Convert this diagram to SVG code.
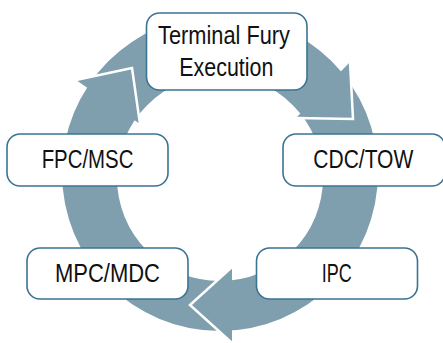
<svg xmlns="http://www.w3.org/2000/svg" width="443" height="343" viewBox="0 0 443 343">
  <style>
    .ring { fill: #809fae; }
    .head { fill: #809fae; stroke: none; }
    .edge { fill: none; stroke: #ffffff; stroke-width: 2.5; stroke-linejoin: miter; }
    .box { fill: #ffffff; stroke: #3b7392; stroke-width: 1.6; }
    .lbl { font-family: "Liberation Sans Narrow", "Liberation Sans", Arial, sans-serif; font-size: 26px; fill: #111111; text-anchor: middle; }
  </style>
  <rect width="443" height="343" fill="#ffffff"/>
  <g id="connectors">
    <path class="ring" fill-rule="evenodd" d="M 62 173 A 158 158 0 1 0 378 173 A 158 158 0 1 0 62 173 Z M 117 178 A 103 103 0 1 0 323 178 A 103 103 0 1 0 117 178 Z"/>
    <g id="head-top-right">
      <polygon class="head" points="350,62 353,119 296,118"/>
      <polyline class="edge" points="350,62 353,119 296,118"/>
    </g>
    <g id="head-bottom">
      <polygon class="head" points="232,267 190,305 232,343"/>
      <polyline class="edge" points="232,267 190,305 232,343"/>
    </g>
    <g id="head-top-left">
      <polygon class="head" points="76,80 132,68 140,124"/>
      <polyline class="edge" points="76,80 132,68 140,124"/>
    </g>
  </g>
  <g id="node-terminal">
    <rect class="box" x="146.5" y="13" width="160.5" height="77" rx="13"/>
    <text class="lbl" x="224" y="44" textLength="132" lengthAdjust="spacingAndGlyphs">Terminal Fury</text>
    <text class="lbl" x="226.3" y="76" textLength="94" lengthAdjust="spacingAndGlyphs">Execution</text>
  </g>
  <g id="node-cdc">
    <rect class="box" x="283" y="134" width="162" height="52" rx="13"/>
    <text class="lbl" x="363.3" y="168" textLength="100" lengthAdjust="spacingAndGlyphs">CDC/TOW</text>
  </g>
  <g id="node-ipc">
    <rect class="box" x="256.5" y="248" width="161" height="51" rx="13"/>
    <text class="lbl" x="336.7" y="282" textLength="30" lengthAdjust="spacingAndGlyphs">IPC</text>
  </g>
  <g id="node-mpc">
    <rect class="box" x="27" y="248" width="161" height="51" rx="13"/>
    <text class="lbl" x="107.5" y="282" textLength="105" lengthAdjust="spacingAndGlyphs">MPC/MDC</text>
  </g>
  <g id="node-fpc">
    <rect class="box" x="7" y="134" width="161" height="52" rx="13"/>
    <text class="lbl" x="87.5" y="168" textLength="91.7" lengthAdjust="spacingAndGlyphs">FPC/MSC</text>
  </g>
</svg>
